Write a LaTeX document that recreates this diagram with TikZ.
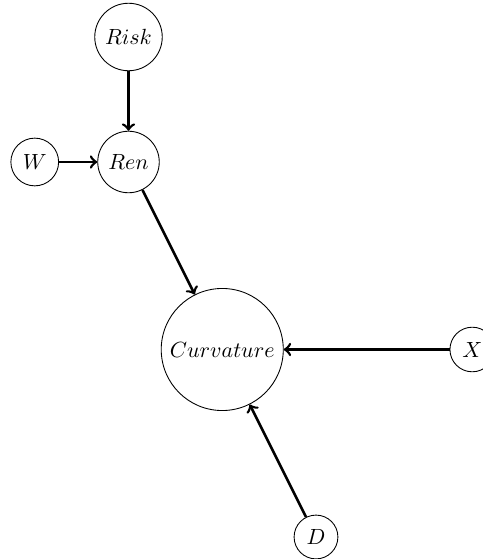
\documentclass[tikz,border=0pt]{standalone}
\usepackage{amssymb}
\usepackage{tikz}
\usetikzlibrary{arrows, automata, positioning}

\begin{document}
\begin{tikzpicture}[
            > = to, % arrow head style
            auto,
            node distance = 2cm, % distance between nodes
            very thick % line style
        ]

        \tikzstyle{every state}=[
            draw = black,
            thin,
            fill = white,
            inner sep = 3.2pt,
            minimum size = 4mm
        ]

	\useasboundingbox (-2.056,-6.352) rectangle (5.656,2.592);

	\node[state] (ren) {$Ren$};
	\node[state] (risk) [above of=ren] {$Risk$};
	\node[state] (w) [left of=ren, node distance=1.5cm] {$W$};
	\node[state] (curvature) at (1.5,-3) {$Curvature$};
	\node[state] (x) [right of=curvature, node distance=4cm] {$X$};
	\node[state] (d) at (3,-6) {$D$};

        \path[->] (risk) edge node {} (ren);
        \path[->] (w) edge node {} (ren);
        \path[->] (ren) edge node {} (curvature);
        \path[->] (x) edge node {} (curvature);
        \path[->] (d) edge node {} (curvature);

    \end{tikzpicture}
\end{document}
